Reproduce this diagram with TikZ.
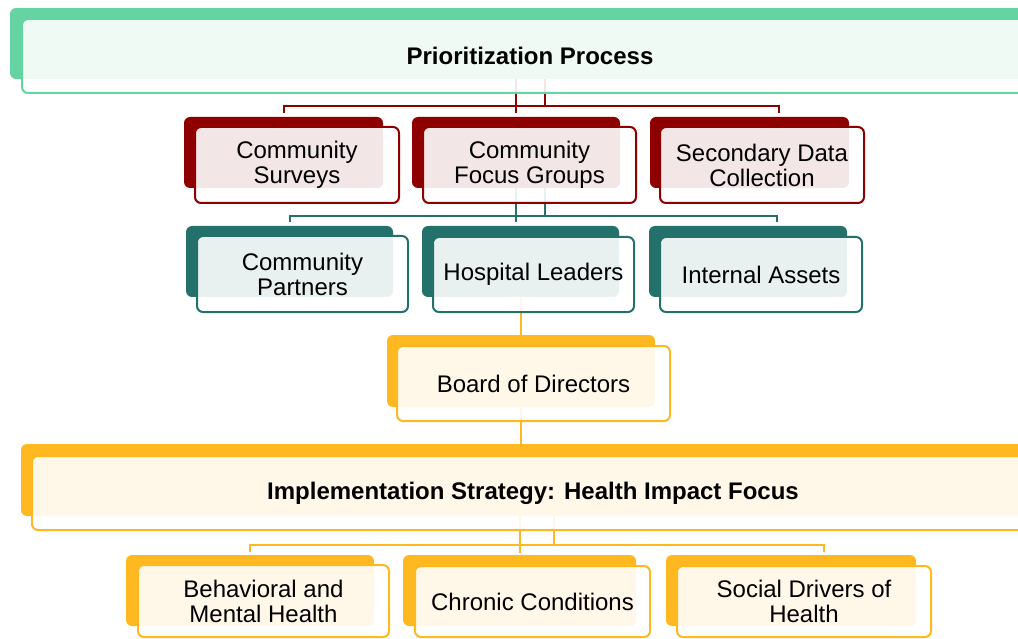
\documentclass[tikz,border=0pt]{standalone}
\usepackage{fontspec}
\setmainfont{Liberation Sans}
\pgfdeclarelayer{bg}
\pgfsetlayers{bg,main}
\definecolor{cgreen}{HTML}{66D4A2}
\definecolor{cred}{HTML}{8E0000}
\definecolor{cteal}{HTML}{23716A}
\definecolor{corange}{HTML}{FFB81F}
\tikzset{
  backbox/.style={fill=#1, draw=none, rounded corners=6pt, inner sep=0pt},
  frontbox/.style={draw=#1, line width=2pt, fill=white, fill opacity=0.9, text opacity=1,
    rounded corners=6pt, inner sep=0pt, align=center, font=\fontsize{24}{25}\selectfont},
  titlefont/.style={font=\fontsize{24}{25}\selectfont\bfseries},
  sz/.style 2 args={minimum width=#1pt, minimum height=#2pt},
  link/.style={draw=#1, line width=2pt},
}
\begin{document}
\begin{tikzpicture}[x=1pt,y=-1pt]
\useasboundingbox (0,0) rectangle (1018,639);
\clip (0,0) rectangle (1018,639);
% top
\node[backbox=cgreen, sz={1020}{71}] (topB) at (520,43.5) {};
\node[frontbox=cgreen, titlefont, sz={1016}{74}] (top) at (530,56) {Prioritization Process};
% red row
\node[backbox=cred, sz={199}{71}] (surveysB) at (283.5,152.5) {};
\node[frontbox=cred, sz={204}{76}] (surveys) at (297,165) {Community\\Surveys};
\node[backbox=cred, sz={208}{71}] (focusB) at (516,152.5) {};
\node[frontbox=cred, sz={213}{76}] (focus) at (529.5,165) {Community\\Focus Groups};
\node[backbox=cred, sz={199}{71}] (secondB) at (749.5,152.5) {};
\node[frontbox=cred, sz={204}{76}] (second) at (762,165) {Secondary Data\\Collection};
% teal row
\node[backbox=cteal, sz={207}{71}] (partnersB) at (289.5,261.5) {};
\node[frontbox=cteal, sz={211}{76}] (partners) at (302.5,274) {Community\\Partners};
\node[backbox=cteal, sz={197}{71}] (hospitalB) at (520.5,261.5) {};
\node[frontbox=cteal, sz={201}{75}] (hospital) at (533.5,274.5) {Hospital Leaders};
\node[backbox=cteal, sz={198}{71}] (internalB) at (748,261.5) {};
\node[frontbox=cteal, sz={202}{75}] (internal) at (761,274.5) {Internal Assets};
% board
\node[backbox=corange, sz={268}{72}] (boardB) at (521,371) {};
\node[frontbox=corange, sz={273}{75}] (board) at (533.5,383.5) {Board of Directors};
% implementation
\node[backbox=corange, sz={1009}{72}] (implB) at (525.5,480) {};
\node[frontbox=corange, titlefont, sz={1002}{74}] (impl) at (533,493) {Implementation Strategy: Health Impact Focus};
% bottom row
\node[backbox=corange, sz={248}{71}] (behavB) at (250,590.5) {};
\node[frontbox=corange, sz={251}{72}] (behav) at (263.5,601) {Behavioral and\\Mental Health};
\node[backbox=corange, sz={233}{71}] (chronicB) at (519.5,590.5) {};
\node[frontbox=corange, sz={235}{71}] (chronic) at (532.5,601.5) {Chronic Conditions};
\node[backbox=corange, sz={250}{71}] (socialB) at (791,590.5) {};
\node[frontbox=corange, sz={254}{71}] (social) at (804,601.5) {Social Drivers of\\Health};
% connectors
\coordinate (busR) at (545,106);
\coordinate (tickR) at (779,113);
\coordinate (busT) at (545,216);
\coordinate (tickT) at (777,222);
\coordinate (busO) at (554,545);
\coordinate (tickO) at (824,552);
\begin{pgfonlayer}{bg}
  \draw[link=cred] (top.center -| busR) -- (busR);
  \draw[link=cred] (top.center -| focusB.north) -- ([yshift=4pt]focusB.north);
  \draw[link=cred] ([yshift=4pt]surveysB.north) -- (surveysB.north |- busR) -- (tickR |- busR) -- (tickR);
  \draw[link=cteal] (focus.center -| busT) -- (busT);
  \draw[link=cteal] (focus.center -| focusB.north) -- (focusB.north |- tickT);
  \draw[link=cteal] ([yshift=4pt]partnersB.north) -- (partnersB.north |- busT) -- (tickT |- busT) -- (tickT);
  \draw[link=corange] (hospital.center -| boardB.north) -- (boardB.north);
  \draw[link=corange] (board.center -| boardB.north) -- (boardB.north |- implB.north);
  \draw[link=corange] (impl.center -| busO) -- (busO);
  \draw[link=corange] (impl.center -| chronicB.north) -- ([yshift=2pt]chronicB.north);
  \draw[link=corange] ([yshift=3pt]behavB.north) -- (behavB.north |- busO) -- (tickO |- busO) -- (tickO);
\end{pgfonlayer}
\end{tikzpicture}
\end{document}
